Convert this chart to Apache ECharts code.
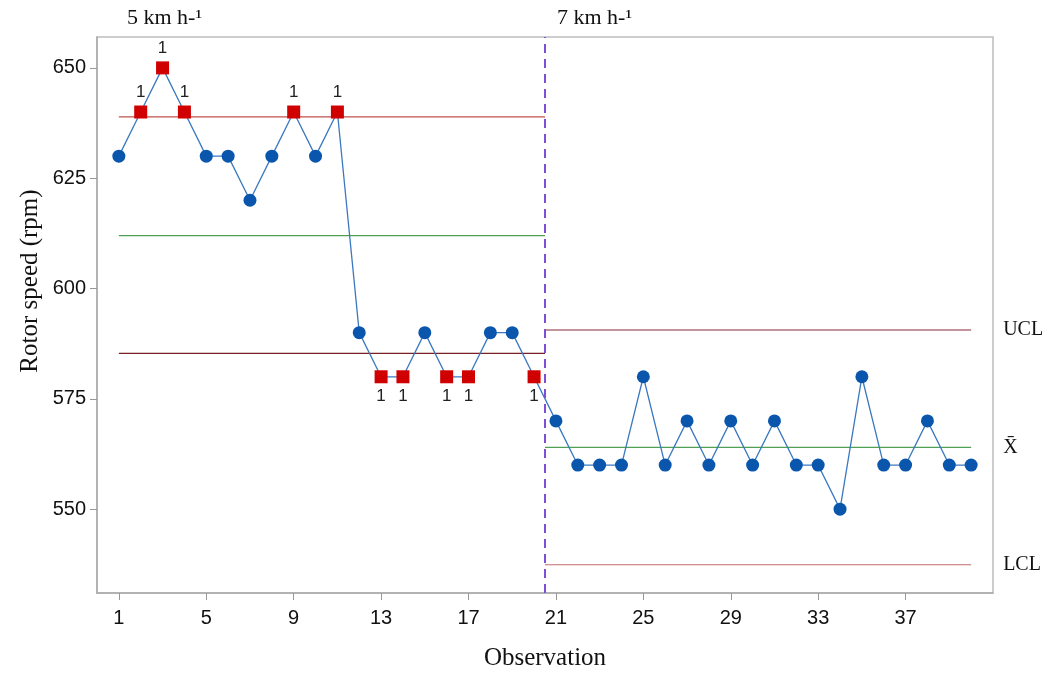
<!DOCTYPE html>
<html>
<head>
<meta charset="utf-8">
<script src="https://cdn.jsdelivr.net/npm/echarts@6/dist/echarts.min.js"></script>
<style>
  html, body { margin: 0; padding: 0; background: #fff; }
  #chart { width: 1046px; height: 675px; }
</style>
</head>
<body>
<div id="chart"></div>
<script>
// rotor speed per observation
var rpm = [630, 640, 650, 640, 630, 630, 620, 630, 640, 630,
           640, 590, 580, 580, 590, 580, 580, 590, 590, 580,
           570, 560, 560, 560, 580, 560, 570, 560, 570, 560,
           570, 560, 560, 550, 580, 560, 560, 570, 560, 560];
// observations flagged by test 1
var flagged = [2, 3, 4, 9, 11, 13, 14, 16, 17, 20];
var xTicks = [1, 5, 9, 13, 17, 21, 25, 29, 33, 37];
var yTicks = [550, 575, 600, 625, 650];
// phase limits: [ucl, mean, lcl]
var phase1Limits = [638.9, 612, 585.3];
var phase2Limits = [590.6, 564, 537.4];
var phase1Span = [1, 20.5];
var phase2Span = [20.5, 40];
var phaseSplit = 20.5;
var phaseNames = ['5 km h-\u00b9', '7 km h-\u00b9'];

var BLUE = '#0a56ad';
var RED = '#d00000';
var serif = '"Liberation Serif", "Times New Roman", serif';
var sans = '"Liberation Sans", Arial, sans-serif';

function pointData() {
    var out = [];
    for (var i = 0; i < rpm.length; i++) {
        var obs = i + 1;
        var mean = obs <= 20 ? phase1Limits[1] : phase2Limits[1];
        if (flagged.indexOf(obs) >= 0) {
            out.push({
                value: [obs, rpm[i]],
                symbol: 'rect',
                symbolSize: 13,
                itemStyle: { color: RED },
                label: { show: true, formatter: '1', position: rpm[i] > mean ? 'top' : 'bottom', distance: 5 }
            });
        } else {
            out.push({ value: [obs, rpm[i]] });
        }
    }
    return out;
}

function limitLine(span, y, color, endText) {
    var s = {
        type: 'line',
        data: [[span[0], y], [span[1], y]],
        symbol: 'none',
        silent: true,
        lineStyle: { color: color, width: 1.2 },
        z: 1
    };
    if (endText) {
        s.endLabel = {
            show: true, formatter: endText, distance: 32,
            fontFamily: serif, fontSize: 20, color: '#111'
        };
    }
    return s;
}

var chart = echarts.init(document.getElementById('chart'));
chart.setOption({
    animation: false,
    grid: { left: 97, right: 53, top: 37, bottom: 82, show: true, borderColor: '#bdbdbd', borderWidth: 1.5, outerBoundsMode: 'none', containLabel: false },
    xAxis: {
        type: 'value', min: 0, max: 41,
        name: 'Observation', nameLocation: 'middle', nameGap: 53,
        nameTextStyle: { fontFamily: serif, fontSize: 25, color: '#111' },
        axisLine: { show: true, lineStyle: { color: '#aaa', width: 1.5 } },
        axisTick: { show: true, customValues: xTicks, length: 7, lineStyle: { color: '#999' } },
        axisLabel: { customValues: xTicks, fontFamily: sans, fontSize: 20, color: '#111', margin: 15 },
        splitLine: { show: false }
    },
    yAxis: {
        type: 'value', min: 531, max: 657,
        axisLine: { show: true, lineStyle: { color: '#aaa', width: 1.5 } },
        axisTick: { show: true, customValues: yTicks, length: 7, lineStyle: { color: '#999' } },
        axisLabel: { customValues: yTicks, fontFamily: sans, fontSize: 20, color: '#111', margin: 11 },
        splitLine: { show: false }
    },
    graphic: [
        { type: 'text', x: 30, y: 281, rotation: Math.PI / 2, style: { text: 'Rotor speed (rpm)', font: '25px ' + serif, fill: '#111', align: 'center', verticalAlign: 'middle' } },
        { type: 'text', x: 127, y: 7, style: { text: phaseNames[0], font: '22px ' + serif, fill: '#111' } },
        { type: 'text', x: 557, y: 7, style: { text: phaseNames[1], font: '22px ' + serif, fill: '#111' } }
    ],
    series: [
        limitLine(phase1Span, phase1Limits[0], '#c0504d'),
        limitLine(phase1Span, phase1Limits[1], '#4f9f55'),
        limitLine(phase1Span, phase1Limits[2], '#7a1f22'),
        limitLine(phase2Span, phase2Limits[0], '#8a2a3a', 'UCL'),
        limitLine(phase2Span, phase2Limits[1], '#4f9f55', 'X\u0304'),
        limitLine(phase2Span, phase2Limits[2], '#c06a6f', 'LCL'),
        {
            type: 'line',
            data: pointData(),
            symbol: 'circle',
            symbolSize: 13,
            itemStyle: { color: BLUE },
            lineStyle: { color: '#3a78c0', width: 1.3 },
            label: { fontFamily: sans, fontSize: 17, color: '#222' },
            z: 3,
            markLine: {
                silent: true,
                symbol: 'none',
                label: { show: false },
                lineStyle: { color: '#7b4fd6', width: 2, type: [9, 6] },
                data: [{ xAxis: phaseSplit }]
            }
        }
    ]
});
</script>
</body>
</html>
